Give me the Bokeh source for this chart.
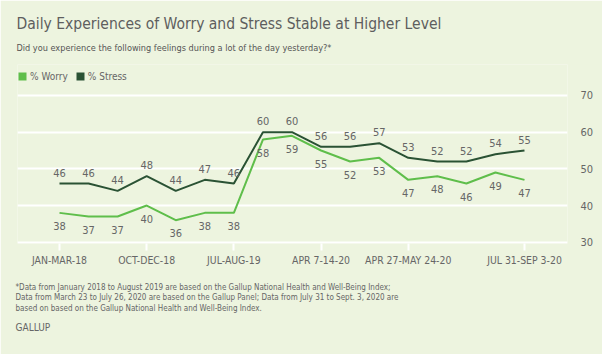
from bokeh.plotting import figure
from bokeh.models import Range1d, FixedTicker, Title, Legend, LegendItem
from bokeh.core.properties import value
from bokeh.embed import file_html
from bokeh.resources import INLINE

# ---- data ----
stress = [46, 46, 44, 48, 44, 47, 46, 60, 60, 56, 56, 57, 53, 52, 52, 54, 55]
worry = [38, 37, 37, 40, 36, 38, 38, 58, 59, 55, 52, 53, 47, 48, 46, 49, 47]
period_index = list(range(len(stress)))
tick_positions = [0, 3, 6, 9, 12, 16]
tick_labels = ["JAN-MAR-18", "OCT-DEC-18", "JUL-AUG-19", "APR 7-14-20",
               "APR 27-MAY 24-20", "JUL 31-SEP 3-20"]
y_ticks = [30, 40, 50, 60, 70]

title = "Daily Experiences of Worry and Stress Stable at Higher Level"
subtitle = "Did you experience the following feelings during a lot of the day yesterday?*"
notes = [
    "*Data from January 2018 to August 2019 are based on the Gallup National Health and Well-Being Index;",
    "Data from March 23 to July 26, 2020 are based on the Gallup Panel; Data from July 31 to Sept. 3, 2020 are",
    "based on based on the Gallup National Health and Well-Being Index.",
]
source_label = "GALLUP"

BG = "#EDF4DF"
WORRY = "#5FBE4B"
STRESS = "#2A5234"
GRAY = "#666666"
FONT = "DejaVu Sans Condensed, Liberation Sans Narrow, Roboto, sans-serif"

p = figure(width=602, height=354, output_backend="svg", toolbar_location=None,
           title_location=None,
           x_range=Range1d(-1.445, 17.48), y_range=Range1d(29.65, 78.45),
           y_axis_location="right",
           min_border_left=17, min_border_right=35, min_border_top=64,
           min_border_bottom=111,
           background_fill_color=BG, border_fill_color=BG, outline_line_color=None)

# grid
p.xgrid.visible = False
p.ygrid.ticker = FixedTicker(ticks=y_ticks)
p.ygrid.grid_line_color = "white"
p.ygrid.grid_line_width = 2

# x axis
p.xaxis.ticker = FixedTicker(ticks=tick_positions)
p.xaxis.major_label_overrides = {t: l for t, l in zip(tick_positions, tick_labels)}
p.xaxis.axis_line_color = None
p.xaxis.major_tick_line_color = "white"
p.xaxis.major_tick_line_width = 2
p.xaxis.major_tick_in = 0
p.xaxis.major_tick_out = 7
p.xaxis.minor_tick_line_color = None
p.xaxis.major_label_standoff = 3
p.xaxis.major_label_text_font = FONT
p.xaxis.major_label_text_font_size = "10.4px"
p.xaxis.major_label_text_color = GRAY
# blank axis label only to open a gap above the footnote
p.xaxis.axis_label = " "
p.xaxis.axis_label_text_font_size = "8px"
p.xaxis.axis_label_standoff = 2

# y axis
p.yaxis.ticker = FixedTicker(ticks=y_ticks)
p.yaxis.axis_line_color = None
p.yaxis.major_tick_line_color = None
p.yaxis.minor_tick_line_color = None
p.yaxis.major_label_standoff = 7
p.yaxis.major_label_text_font = FONT
p.yaxis.major_label_text_font_size = "11px"
p.yaxis.major_label_text_color = GRAY

# lines
p.line(period_index, stress, line_color=STRESS, line_width=2)
p.line(period_index, worry, line_color=WORRY, line_width=2)

# data labels
p.text(period_index, stress, text=[str(v) for v in stress], text_align="center",
       text_baseline="middle", y_offset=-11, text_font=value(FONT),
       text_font_size="11px", text_color=GRAY)
p.text(period_index, worry, text=[str(v) for v in worry], text_align="center",
       text_baseline="middle", y_offset=13, text_font=value(FONT),
       text_font_size="11px", text_color=GRAY)

# zero-area swatch renderers that only supply the square legend keys
sw_worry = p.quad(left=period_index, right=period_index, top=worry, bottom=worry,
                  fill_color=WORRY, line_color=None)
sw_stress = p.quad(left=period_index, right=period_index, top=stress, bottom=stress,
                   fill_color=STRESS, line_color=None)
legend = Legend(items=[LegendItem(label="% Worry", renderers=[sw_worry]),
                       LegendItem(label="% Stress", renderers=[sw_stress])],
                orientation="horizontal", location="top_left",
                margin=0, padding=0, spacing=7,
                glyph_width=10, glyph_height=10, label_height=24, label_standoff=3,
                label_text_font=FONT, label_text_font_size="10px",
                label_text_color=GRAY, label_text_baseline="middle",
                background_fill_alpha=0, border_line_color=None)
p.add_layout(legend)

# titles (stacked outward from the frame)
p.add_layout(Title(text=subtitle, align="left", offset=-1, standoff=20, vertical_align="top",
                   text_font=FONT, text_font_size="9.1px", text_font_style="normal",
                   text_color="#555555"), "above")
p.add_layout(Title(text=title, align="left", offset=-1, standoff=0,
                   text_font=FONT, text_font_size="15.5px", text_font_style="normal",
                   text_color="#5E5E5E"), "above")

# footnotes below the axis
p.add_layout(Title(text="\n".join(notes), align="left", offset=-2, standoff=0,
                   vertical_align="top", text_line_height=1.2,
                   text_font=FONT, text_font_size="8px", text_font_style="normal",
                   text_color=GRAY), "below")
p.add_layout(Title(text=source_label, align="left", offset=-2, standoff=13,
                   vertical_align="top",
                   text_font=FONT, text_font_size="10px", text_font_style="normal",
                   text_color=GRAY), "below")

open("out.html", "w").write(file_html(p, INLINE))
